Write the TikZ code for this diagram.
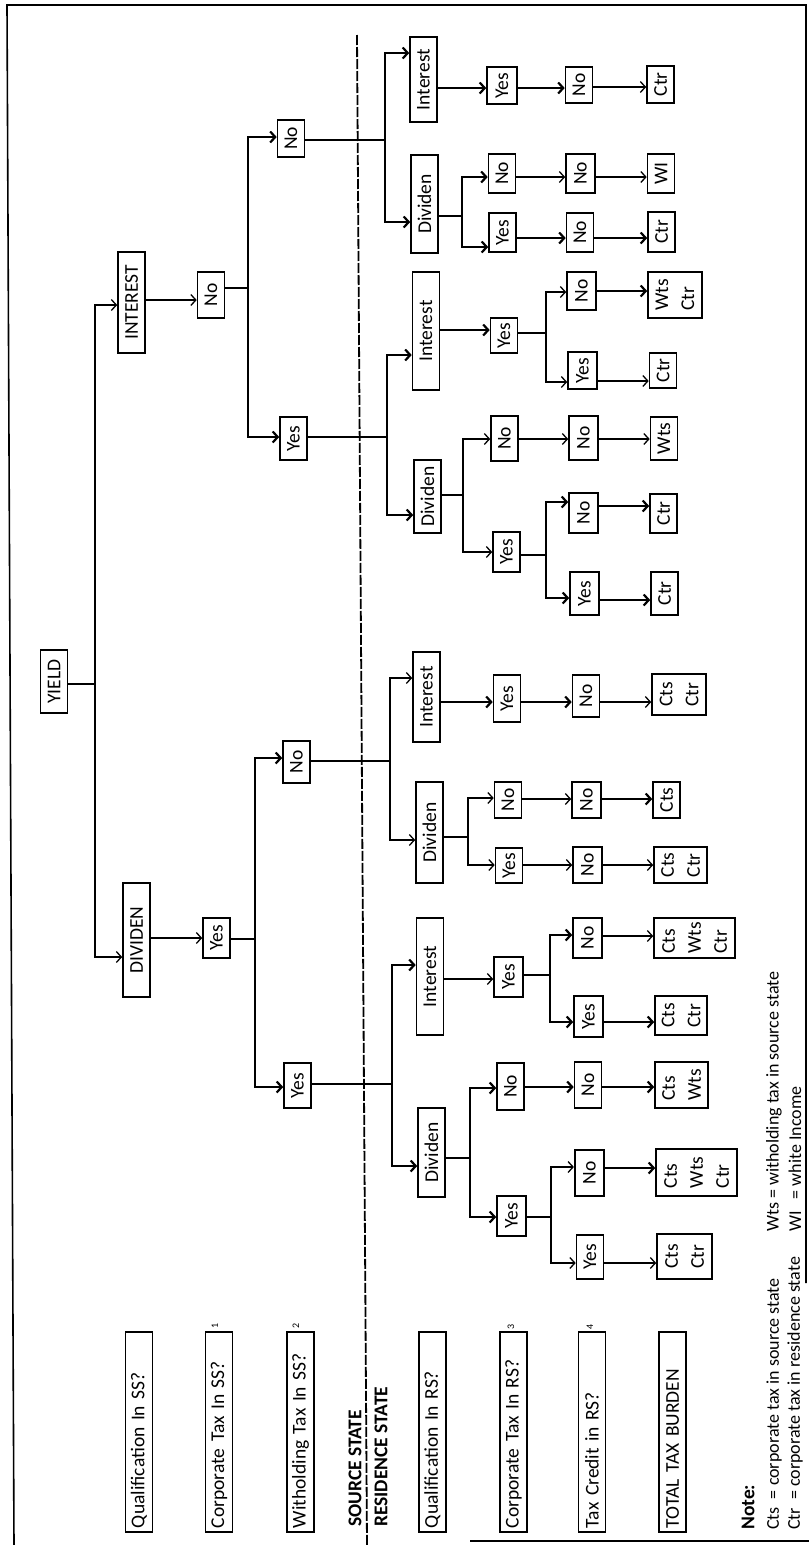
\documentclass[tikz,border=0pt]{standalone}
\usepackage{fontspec}
\setmainfont{Carlito}
\usetikzlibrary{arrows.meta}
\newcommand{\fsz}{\fontsize{19.5}{26}\selectfont}
\newcommand{\nsz}{\fontsize{18}{22}\selectfont}
\newcommand{\harr}[4][]{\draw[arr,#1] (#2.south |- 0,#4) -- (#3.north |- 0,#4);}
\newcommand{\hbranch}[8][]{%
  \coordinate (j#2) at (#3,#4);
  \coordinate (j#2a) at (#3,#6);
  \coordinate (j#2b) at (#3,#8);
  \draw[con,#1] (#2.south |- j#2) -- (j#2);
  \draw[con,#1] (j#2a) -- (j#2b);
  \draw[arr,#1] (j#2a) -- (#5.north |- j#2a);
  \draw[arr,#1] (j#2b) -- (#7.north |- j#2b);
}
\begin{document}
\begin{tikzpicture}[x=1pt,y=-1pt,
  bx/.style={draw, line width=1.6pt, rotate=90, font=\fsz, inner sep=1pt, minimum height=27pt},
  len/.style={minimum width=#1},
  wd/.style={minimum height=#1},
  con/.style={line width=1.3pt, line cap=rect},
  heavy/.style={line width=2.2pt},
  arr/.style={con, -{Straight Barb[length=5pt,width=11pt]}},
  lbl/.style={bx, minimum width=200pt, text width=192pt, align=left},
  txt/.style={rotate=90, anchor=west, font=\fsz, inner sep=0pt},
  ntxt/.style={rotate=90, anchor=west, font=\nsz, inner sep=0pt},
  fn/.style={rotate=90, font=\fontsize{10}{10}\selectfont, inner sep=0pt},
  ml/.style={align=left}
]
\useasboundingbox (0,0) rectangle (809,1545);

% frame
\draw[line width=1.6pt] (14,1545) -- (7,5) -- (806,5) -- (806,1283);
\draw[line width=1.4pt] (470,1541) -- (809,1541);
% source / residence divider
\draw[line width=1.8pt, dash pattern=on 10pt off 2pt] (357,35) -- (367,1545);

% left column labels
\node[lbl] (lq1) at (139,1432) {Qualification In SS?};
\node[lbl] (lq2) at (219,1432) {Corporate Tax In SS?};
\node[lbl] (lq3) at (300.5,1432) {Witholding Tax In SS?};
\node[lbl] (lq4) at (432.5,1432) {Qualification In RS?};
\node[lbl] (lq5) at (513.5,1432) {Corporate Tax In RS?};
\node[lbl] (lq6) at (592,1432) {Tax Credit in RS?};
\node[lbl] (lq7) at (672.5,1432) {TOTAL TAX BURDEN};
\node[fn] (fn1) at (215,1326) {1};
\node[fn] (fn2) at (296,1326) {2};
\node[fn] (fn3) at (511,1327) {3};
\node[fn] (fn4) at (590,1327) {4};
\node[txt, font=\fsz\bfseries] (ss) at (355,1527) {SOURCE STATE};
\node[txt, font=\fsz\bfseries] (rs) at (381,1527) {RESIDENCE STATE};

% notes
\node[txt, font=\fsz\bfseries] (note) at (748,1530) {Note:};
\node[ntxt] (n1) at (774,1530) {Cts\ \ = corporate tax in source state};
\node[ntxt] (n2) at (795,1530) {Ctr\ \ = corporate tax in residence state};
\node[ntxt] (n3) at (774,1232) {Wts = witholding tax in source state};
\node[ntxt] (n4) at (795,1232) {WI\ \ \ = white Income};

% level 1-3
\node[bx,len=63pt] (yield) at (54,681.5) {YIELD};
\node[bx,len=101pt] (int) at (131.5,302.5) {INTEREST};
\node[bx,len=114pt] (div) at (136.5,940) {DIVIDEN};
\node[bx,len=46pt] (iN) at (211,295) {No};
\node[bx,len=40pt] (dY) at (216.5,938) {Yes};
\node[bx,len=37pt] (iNN) at (291,138.5) {No};
\node[bx,len=43pt] (iNY) at (293.5,438.5) {Yes};
\node[bx,len=42pt] (dYN) at (296.5,762) {No};
\node[bx,len=45pt] (dYY) at (297.5,1085.5) {Yes};

% level 5
\node[bx,len=85pt] (A) at (423.5,79.5) {Interest};
\node[bx,len=98pt] (B) at (424.5,204) {Dividen};
\node[bx,len=118pt] (C) at (426,331) {Interest};
\node[bx,len=73pt] (D) at (427.5,496.5) {Dividen};
\node[bx,len=90pt] (E) at (426.5,697) {Interest};
\node[bx,len=101pt] (F) at (429.5,832.5) {Dividen};
\node[bx,len=117pt] (G) at (430,976.5) {Interest};
\node[bx,len=89pt] (H) at (431.5,1152.5) {Dividen};

% subtree A
\node[bx,len=37pt,wd=30pt] (AY) at (502,85.5) {Yes};
\node[bx,len=36pt] (AYN) at (579,85) {No};
\node[bx,len=37pt] (AYNC) at (660.5,84.5) {Ctr};
% subtree B
\node[bx,len=39pt] (BN) at (502,173.5) {No};
\node[bx,len=39pt] (BY) at (502.5,232.5) {Yes};
\node[bx,len=39pt,wd=29pt] (BNN) at (580.5,173.5) {No};
\node[bx,len=39pt] (BNNW) at (661,173.5) {WI};
\node[bx,len=39pt] (BYN) at (580,232.5) {No};
\node[bx,len=40pt] (BYNC) at (661.5,232) {Ctr};
% subtree C
\node[bx,len=35pt] (CY) at (504,335.5) {Yes};
\node[bx,len=38pt,wd=29pt] (CYN) at (581.5,291) {No};
\node[bx,len=37pt,wd=29pt] (CYY) at (582.5,370.5) {Yes};
\node[bx,ml,len=46pt,wd=54pt] (CYNR) at (675,295) {Wts\\Ctr};
\node[bx,len=35pt] (CYYC) at (663,370.5) {Ctr};
% subtree D
\node[bx,len=45pt] (DN) at (504.5,438.5) {No};
\node[bx,len=40pt] (DY) at (506.5,552) {Yes};
\node[bx,len=44pt,wd=29pt] (DNN) at (583.5,438) {No};
\node[bx,len=43pt] (DNNW) at (664,438.5) {Wts};
\node[bx,len=40pt,wd=29pt] (DYN) at (583.5,513) {No};
\node[bx,len=43pt,wd=29pt] (DYY) at (584.5,593.5) {Yes};
\node[bx,len=39pt] (DYNC) at (663.5,513.5) {Ctr};
\node[bx,len=43pt] (DYYC) at (664.5,593.5) {Ctr};
% subtree E
\node[bx,len=47pt] (EY) at (507,698.5) {Yes};
\node[bx,len=42pt] (EYN) at (586,696) {No};
\node[bx,ml,len=41pt,wd=54pt] (EYNC) at (679,694.5) {Cts\\Ctr};
% subtree F
\node[bx,len=36pt] (FN) at (508,800) {No};
\node[bx,len=35pt] (FY) at (509,865.5) {Yes};
\node[bx,len=36pt,wd=29pt] (FNN) at (586.5,800) {No};
\node[bx,len=36pt] (FNNC) at (666.5,800) {Cts};
\node[bx,len=36pt,wd=29pt] (FYN) at (587.5,865) {No};
\node[bx,ml,len=36pt,wd=53pt] (FYNC) at (680.5,865) {Cts\\Ctr};
% subtree G
\node[bx,len=40pt,wd=29pt] (GY) at (508.5,977) {Yes};
\node[bx,len=40pt,wd=29pt] (GYN) at (587.5,938) {No};
\node[bx,len=41pt,wd=29pt] (GYY) at (588.5,1016.5) {Yes};
\node[bx,ml,len=40pt,wd=81pt] (GYNC) at (694.5,938) {Cts\\Wts\\Ctr};
\node[bx,ml,len=39pt,wd=52pt] (GYYC) at (681,1015.5) {Cts\\Ctr};
% subtree H
\node[bx,len=47pt] (HN) at (510.5,1086.5) {No};
\node[bx,len=40pt,wd=29pt] (HY) at (511.5,1216) {Yes};
\node[bx,len=46pt] (HNN) at (588,1085) {No};
\node[bx,ml,len=46pt,wd=53pt] (HNNC) at (681.5,1085) {Cts\\Wts};
\node[bx,len=46pt,wd=29pt,line width=2.2pt] (HYN) at (589.5,1173) {No};
\node[bx,len=44pt] (HYY) at (590,1257) {Yes};
\node[bx,ml,len=47pt,wd=81pt] (HYNC) at (696.5,1172.5) {Cts\\Wts\\Ctr};
\node[bx,ml,len=45pt,wd=55pt] (HYYC) at (684.5,1256.5) {Cts\\Ctr};

% connectors, upper levels
\hbranch{yield}{95}{684}{int}{305}{div}{957}
\harr{int}{iN}{300}
\harr{div}{dY}{938}
\hbranch[heavy]{dY}{255}{939}{dYN}{758}{dYY}{1087}
\hbranch[heavy]{iN}{248}{288}{iNN}{137}{iNY}{437}
\hbranch[heavy]{iNN}{385}{140}{A}{53}{B}{222}
\hbranch[heavy]{iNY}{387}{437}{C}{355}{D}{515}
\hbranch{dYN}{390}{761}{E}{678}{F}{840}
\hbranch[heavy]{dYY}{392}{1084}{G}{965}{H}{1166}

% subtree A
\harr[heavy]{A}{AY}{88}
\harr[heavy]{AY}{AYN}{88}
\harr{AYN}{AYNC}{87}
% subtree B
\hbranch[heavy]{B}{462}{216}{BN}{177}{BY}{247}
\harr{BN}{BNN}{177}
\harr{BNN}{BNNW}{177}
\harr[heavy]{BY}{BYN}{238}
\harr[heavy]{BYN}{BYNC}{238}
% subtree C
\harr[heavy]{C}{CY}{330}
\hbranch{CY}{546}{333}{CYN}{292}{CYY}{382}
\harr[heavy]{CYN}{CYNR}{291}
\harr{CYY}{CYYC}{381}
% subtree D
\hbranch{D}{463}{495}{DN}{439}{DY}{552}
\harr{DN}{DNN}{439}
\harr{DNN}{DNNW}{439}
\hbranch[heavy]{DY}{546}{555}{DYN}{502}{DYY}{598}
\harr[heavy]{DYN}{DYNC}{506}
\harr[heavy]{DYY}{DYYC}{600}
% subtree E
\harr[heavy]{E}{EY}{702}
\harr[heavy]{EY}{EYN}{702}
\harr{EYN}{EYNC}{702}
% subtree F
\hbranch{F}{468}{837}{FN}{798}{FY}{865}
\harr{FN}{FNN}{799}
\harr[heavy]{FNN}{FNNC}{799}
\harr{FY}{FYN}{865}
\harr{FYN}{FYNC}{865}
% subtree G
\harr{G}{GY}{979}
\hbranch[heavy]{GY}{550}{975}{GYN}{935}{GYY}{1022}
\harr{GYN}{GYNC}{936}
\harr[heavy]{GYY}{GYYC}{1022}
% subtree H
\hbranch[heavy]{H}{470}{1158}{HN}{1088}{HY}{1217}
\harr[heavy]{HN}{HNN}{1087}
\harr[heavy]{HNN}{HNNC}{1087}
\hbranch{HY}{551}{1217}{HYN}{1167}{HYY}{1263}
\harr[heavy]{HYN}{HYNC}{1168}
\harr{HYY}{HYYC}{1263}
\end{tikzpicture}
\end{document}
